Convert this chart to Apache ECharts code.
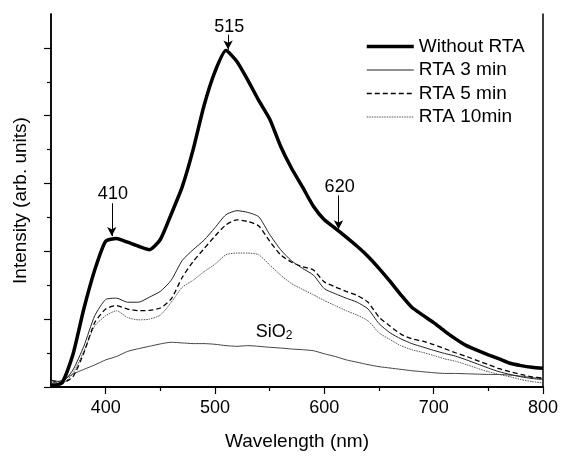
<!DOCTYPE html>
<html>
<head>
<meta charset="utf-8">
<script src="https://cdn.jsdelivr.net/npm/echarts@6/dist/echarts.min.js"></script>
<style>html,body{margin:0;padding:0;background:#fff}#c{width:561px;height:456px}</style>
</head>
<body>
<div id="c"></div>
<script>
var wavelength = [350,360,370,380,390,400,410,420,430,440,450,460,470,480,490,500,510,520,530,540,550,560,570,580,590,600,610,620,630,640,650,660,670,680,690,700,710,720,730,740,750,760,770,780,790,800];
var withoutRTA = [0.05,0.12,0.95,2.3,3.45,4.3,4.38,4.27,4.15,4.05,4.35,5.1,5.9,7.0,8.3,9.3,9.92,9.6,9.05,8.45,7.9,7.1,6.45,5.9,5.33,4.93,4.68,4.42,4.15,3.85,3.5,3.12,2.72,2.35,2.12,1.9,1.65,1.42,1.22,1.08,0.95,0.83,0.7,0.63,0.58,0.55];
var rta3 = [0.2,0.15,0.5,1.2,2.1,2.58,2.62,2.5,2.5,2.65,2.82,3.15,3.73,4.05,4.33,4.7,5.08,5.2,5.15,5.02,4.5,4.05,3.72,3.5,3.3,2.9,2.75,2.62,2.5,2.3,1.87,1.6,1.42,1.28,1.18,1.08,0.99,0.91,0.8,0.68,0.56,0.45,0.37,0.3,0.25,0.22];
var rta5 = [0.2,0.12,0.3,1.0,1.9,2.3,2.4,2.3,2.25,2.26,2.33,2.6,3.23,3.7,4.08,4.45,4.78,4.93,4.88,4.75,4.3,3.9,3.68,3.55,3.45,3.1,2.95,2.82,2.7,2.5,2.06,1.8,1.56,1.42,1.35,1.25,1.13,1.01,0.9,0.78,0.66,0.54,0.45,0.37,0.3,0.26];
var rta10 = [0.15,0.1,0.4,1.05,1.8,2.1,2.25,2.05,1.98,2.0,2.12,2.5,2.94,3.15,3.4,3.62,3.9,3.95,3.95,3.9,3.6,3.3,3.05,2.88,2.72,2.55,2.4,2.25,2.12,1.95,1.6,1.4,1.22,1.1,1.02,0.93,0.83,0.76,0.66,0.55,0.45,0.37,0.3,0.22,0.16,0.12];
var sio2 = [0.1,0.2,0.38,0.52,0.65,0.8,0.9,1.05,1.13,1.2,1.27,1.32,1.3,1.28,1.28,1.26,1.22,1.2,1.22,1.2,1.17,1.15,1.12,1.1,1.07,0.98,0.9,0.8,0.73,0.66,0.6,0.56,0.52,0.48,0.45,0.42,0.4,0.4,0.39,0.38,0.37,0.37,0.35,0.32,0.28,0.25];
var xMajor = [400,500,600,700,800];
var xMinor = [450,550,650,750];
var yMajor = [0,2,4,6,8,10];
var yMinor = [1,3,5,7,9];
var peakLabels = ['410','515','620'];
var peakX = [405.6,512,613];
var arrowTop = [5.42,10.39,5.65];
var arrowBottom = [4.45,9.95,4.65];
var labelY = [5.68,10.62,5.9];

function pairs(v){ return wavelength.map(function(x,i){ return [x, v[i]]; }); }
var FONT = '"Liberation Sans", Arial, sans-serif';
var chart = echarts.init(document.getElementById('c'), null, {renderer:'canvas'});

var arrowLines = peakX.map(function(x,i){ return [{coord:[x, arrowTop[i]]},{coord:[x, arrowBottom[i]]}]; });
var textPoints = peakX.map(function(x,i){ return {coord:[x+1, labelY[i]], value: peakLabels[i]}; });
textPoints.push({coord:[554, 1.62], value:'sio'});

function axisBase(extra){
  var o = {type:'value', axisLine:{show:true, lineStyle:{color:'#000', width:1.5}}, splitLine:{show:false}, axisLabel:{show:false}, axisTick:{show:false}};
  for (var k in extra) o[k]=extra[k];
  return o;
}

var option = {
  animation:false,
  backgroundColor:'#fff',
  textStyle:{fontFamily:FONT},
  grid:{left:51, right:16, top:14, bottom:65, containLabel:false},
  legend:{
    orient:'vertical', left:360, top:32, itemWidth:47, itemHeight:20, itemGap:4.5,
    textStyle:{fontFamily:FONT, fontSize:19, color:'#000'},
    itemStyle:{opacity:0},
    data:[
      {name:'Without RTA', lineStyle:{width:3.5, color:'#000'}},
      {name:'RTA 3 min', lineStyle:{width:1, color:'#222'}},
      {name:'RTA 5 min', lineStyle:{width:1.3, color:'#000', type:[5,3]}},
      {name:'RTA 10min', lineStyle:{width:1, color:'#555', type:[1.5,1]}}
    ],
    selectedMode:false
  },
  xAxis:[
    axisBase({min:350, max:800, position:'bottom',
      axisTick:{show:true, inside:false, length:7, customValues:xMajor, lineStyle:{color:'#000', width:1.2}},
      axisLabel:{show:true, customValues:xMajor, fontSize:18, color:'#000', margin:12, fontFamily:FONT},
      name:'Wavelength (nm)', nameLocation:'middle', nameGap:45,
      nameTextStyle:{fontSize:19, color:'#000', fontFamily:FONT}}),
    axisBase({min:350, max:800, position:'bottom', gridIndex:0,
      axisTick:{show:true, length:4, customValues:xMinor, lineStyle:{color:'#000', width:1.2}}}),
    axisBase({min:350, max:800, position:'top', axisLine:{show:true, lineStyle:{color:'#000', width:2}}})
  ],
  yAxis:[
    axisBase({min:0, max:11, position:'left',
      axisTick:{show:true, length:7, customValues:yMajor, lineStyle:{color:'#000', width:1.2}},
      name:'Intensity (arb. units)', nameLocation:'middle', nameGap:21,
      nameTextStyle:{fontSize:19, color:'#000', fontFamily:FONT}}),
    axisBase({min:0, max:11, position:'left',
      axisTick:{show:true, length:4, customValues:yMinor, lineStyle:{color:'#000', width:1.2}}}),
    axisBase({min:0, max:11, position:'right'})
  ],
  series:[
    {name:'SiO2', type:'line', data:pairs(sio2), showSymbol:false, symbol:'none', smooth:0.2,
      itemStyle:{color:'#444'}, lineStyle:{color:'#444', width:1}, z:2,
      markPoint:{symbol:'circle', symbolSize:1, silent:true, itemStyle:{color:'rgba(0,0,0,0)'},
        label:{show:true, position:'inside', color:'#000', fontSize:18, fontFamily:FONT,
          formatter:function(p){ return p.value==='sio' ? '{a|SiO}{b|2}' : p.value; },
          rich:{a:{fontSize:18, color:'#000', fontFamily:FONT}, b:{fontSize:12, color:'#000', fontFamily:FONT, padding:[8,0,0,0]}}},
        data:textPoints}},
    {name:'RTA 10min', type:'line', data:pairs(rta10), showSymbol:false, symbol:'none', smooth:0.2,
      itemStyle:{color:'#555'}, lineStyle:{color:'#555', width:1, type:[1.5,1]}, z:3},
    {name:'RTA 5 min', type:'line', data:pairs(rta5), showSymbol:false, symbol:'none', smooth:0.2,
      itemStyle:{color:'#000'}, lineStyle:{color:'#000', width:1.3, type:[5,3]}, z:4},
    {name:'RTA 3 min', type:'line', data:pairs(rta3), showSymbol:false, symbol:'none', smooth:0.2,
      itemStyle:{color:'#222'}, lineStyle:{color:'#222', width:1}, z:5},
    {name:'Without RTA', type:'line', data:pairs(withoutRTA), showSymbol:false, symbol:'none', smooth:0.2,
      itemStyle:{color:'#000'}, lineStyle:{color:'#000', width:3.5}, z:6,
      markLine:{silent:true, symbol:['none','arrow'], symbolSize:[7,9], precision:2,
        lineStyle:{color:'#000', width:1, type:'solid'}, label:{show:false}, data:arrowLines}}
  ]
};
chart.setOption(option);
</script>
</body>
</html>
